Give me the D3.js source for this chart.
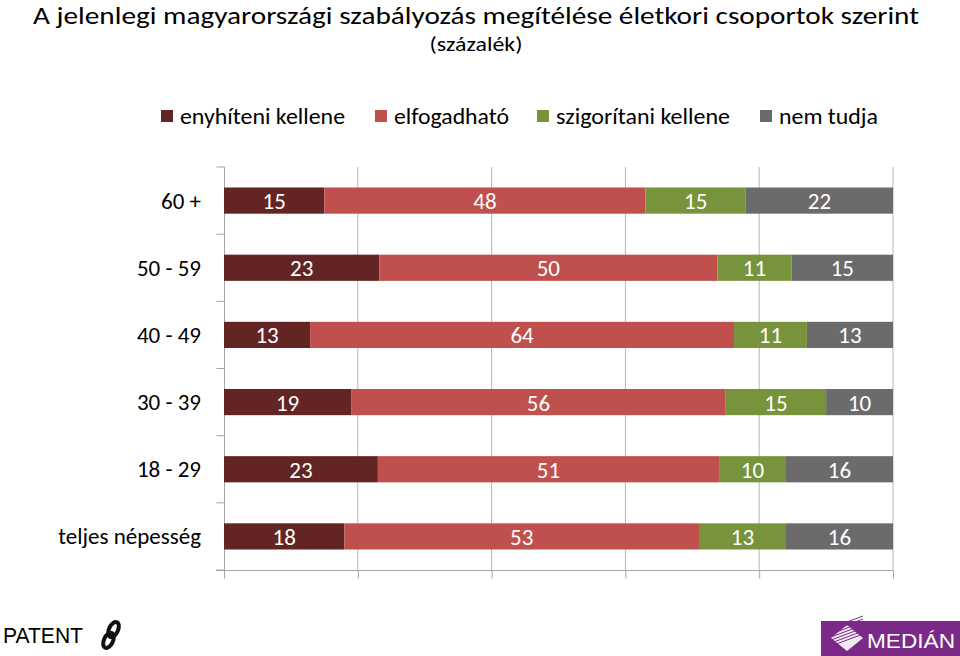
<!DOCTYPE html>
<html><head><meta charset="utf-8">
<script src="https://cdn.jsdelivr.net/npm/d3@7"></script>
<style>body{margin:0;background:#fff}svg{display:block}</style>
</head><body>
<svg id="c" width="960" height="656"></svg>
<script>
const categories = ["60 +", "50 - 59", "40 - 49", "30 - 39", "18 - 29", "teljes népesség"];
const seriesNames = ["enyhíteni kellene", "elfogadható", "szigorítani kellene", "nem tudja"];
const enyhiteni = [15, 23, 13, 19, 23, 18];
const elfogadhato = [48, 50, 64, 56, 51, 53];
const szigoritani = [15, 11, 11, 15, 10, 13];
const nemTudja = [22, 15, 13, 10, 16, 16];
const xTicks = [0, 0.2, 0.4, 0.6, 0.8, 1];
const colors = ["#632523", "#C0504D", "#77933C", "#6B6B6B"];

const FONT = "Carlito, 'Liberation Sans Narrow', 'Open Sans', sans-serif";
const svg = d3.select("#c");

const rows = categories.map((c, i) => ({cat: c, vals: [enyhiteni[i], elfogadhato[i], szigoritani[i], nemTudja[i]]}));
const x = d3.scaleLinear().domain([0, 1]).range([224, 893]);
const y = d3.scaleBand().domain(categories).range([167, 570]).paddingInner(0.61).paddingOuter(0.305);

// gridlines
svg.append("g").selectAll("line").data(xTicks.slice(1)).join("line")
  .attr("x1", d => x(d)).attr("x2", d => x(d)).attr("y1", 167).attr("y2", 570)
  .attr("stroke", "#B7B7B7").attr("stroke-width", 1);

// x axis (bottom)
const xAxis = d3.axisBottom(x).tickValues(xTicks).tickSize(8).tickFormat("").tickSizeOuter(0);
const gx = svg.append("g").attr("transform", "translate(0,570.5)").call(xAxis);
gx.select(".domain").attr("stroke", "#A6A6A6").attr("d", "M216,0H893");
gx.selectAll(".tick line").attr("stroke", "#A6A6A6");

// y axis
const ya = svg.append("g").attr("transform", "translate(224.5,0)");
ya.append("line").attr("x1", 0).attr("x2", 0).attr("y1", 167).attr("y2", 578).attr("stroke", "#A6A6A6");
const bounds = categories.map((c, i) => y(c) - y.step() * y.paddingInner() / 2).concat([570]);
ya.selectAll("line.t").data(bounds).join("line").attr("class", "t")
  .attr("x1", -8).attr("x2", 0).attr("y1", d => d).attr("y2", d => d).attr("stroke", "#A6A6A6");
svg.append("g").selectAll("text").data(categories).join("text")
  .attr("x", 201).attr("y", d => y(d) + y.bandwidth() / 2).attr("dy", "0.35em")
  .attr("text-anchor", "end").attr("font-family", FONT).attr("font-size", 23).attr("fill", "#000")
  .text(d => d);

// bars
rows.forEach(r => {
  const tot = d3.sum(r.vals);
  let acc = 0;
  r.segs = r.vals.map((v, k) => { const s = {k, v, x0: acc / tot, x1: (acc + v) / tot, cat: r.cat}; acc += v; return s; });
});
const segs = rows.flatMap(r => r.segs);
svg.append("g").selectAll("rect").data(segs).join("rect")
  .attr("x", d => x(d.x0)).attr("width", d => x(d.x1) - x(d.x0))
  .attr("y", d => y(d.cat)).attr("height", y.bandwidth())
  .attr("fill", d => colors[d.k]);
svg.append("g").selectAll("text").data(segs).join("text")
  .attr("x", d => (x(d.x0) + x(d.x1)) / 2).attr("y", d => y(d.cat) + y.bandwidth() / 2).attr("dy", "0.37em")
  .attr("text-anchor", "middle").attr("font-family", FONT).attr("font-size", 23).attr("fill", "#fff")
  .text(d => d.v);

// title
svg.append("text").attr("x", 476).attr("y", 24).attr("text-anchor", "middle")
  .attr("font-family", FONT).attr("font-size", 24).attr("fill", "#000")
  .attr("textLength", 886).attr("lengthAdjust", "spacingAndGlyphs")
  .text("A jelenlegi magyarországi szabályozás megítélése életkori csoportok szerint");
svg.append("text").attr("x", 476).attr("y", 51).attr("text-anchor", "middle")
  .attr("font-family", FONT).attr("font-size", 20).attr("fill", "#000")
  .attr("textLength", 93).attr("lengthAdjust", "spacingAndGlyphs")
  .text("(százalék)");

// legend
const legX = [161, 375, 537, 760];
const legW = [165, 115, 174, 99];
const lg = svg.append("g").selectAll("g").data(seriesNames).join("g")
  .attr("transform", (d, i) => `translate(${legX[i]},116)`);
lg.append("rect").attr("x", 0).attr("y", -6).attr("width", 12).attr("height", 12).attr("fill", (d, i) => colors[i]);
lg.append("text").attr("x", 19).attr("y", 0).attr("dy", "0.35em")
  .attr("font-family", FONT).attr("font-size", 22).attr("fill", "#000")
  .attr("textLength", (d, i) => legW[i]).attr("lengthAdjust", "spacingAndGlyphs")
  .text(d => d);

// logos
svg.append("text").attr("x", 3).attr("y", 643).attr("font-family", "'Liberation Sans', Arial, sans-serif")
  .attr("font-size", 22).attr("fill", "#000").attr("textLength", 80).attr("lengthAdjust", "spacingAndGlyphs").text("PATENT");
const chain = svg.append("g").attr("transform", "translate(111,635) rotate(25)").attr("fill", "none").attr("stroke", "#111").attr("stroke-width", 4);
chain.append("ellipse").attr("cx", 0).attr("cy", -6).attr("rx", 4.5).attr("ry", 8);
chain.append("ellipse").attr("cx", 0).attr("cy", 6).attr("rx", 4.5).attr("ry", 8);

svg.append("rect").attr("x", 821).attr("y", 621).attr("width", 139).attr("height", 35).attr("fill", "#7A2A86");
const dia = svg.append("g").attr("transform", "translate(847,638)");
dia.append("path").attr("d", "M-16,0L0,-13L16,0L0,13Z").attr("fill", "#fff").attr("opacity", 0.9);
d3.range(-10, 11, 3).forEach(o => {
  dia.append("line").attr("x1", -16).attr("x2", 16).attr("y1", o).attr("y2", o - 12)
    .attr("stroke", "#7A2A86").attr("stroke-width", 1);
});
svg.append("text").attr("x", 867).attr("y", 648).attr("font-family", "'Liberation Sans', Arial, sans-serif")
  .attr("font-size", 21).attr("fill", "#fff").attr("textLength", 88).attr("lengthAdjust", "spacingAndGlyphs").text("MEDIÁN");
</script>
</body></html>
